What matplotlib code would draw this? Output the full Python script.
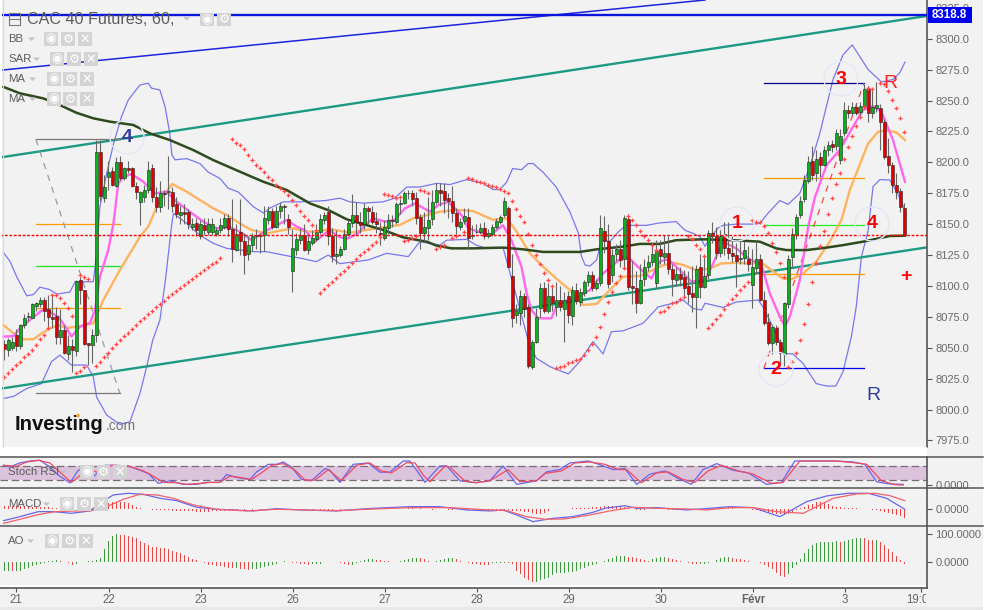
import numpy as np
import matplotlib
matplotlib.use('Agg')
import matplotlib.pyplot as plt
from matplotlib.patches import Rectangle, Circle, Polygon

plt.rcParams['font.family'] = ['Liberation Sans', 'DejaVu Sans']

# candles, one row per ten hours
open_ = [8053,8048,8050,8060,8051,8068,8075,8074,8084,8085,
         8089,8081,8075,8076,8059,8064,8045,8051,8047,8104.5,
         8097,8054,8052,8060,8208,8171,8188,8193,8181,8200,
         8187,8195,8195,8181,8168,8172,8178,8195,8172,8164,
         8175,8176,8176,8166,8157,8160,8160,8148,8151,8140,
         8149,8144,8144,8142,8145,8148,8155,8146,8129,8144,
         8136,8126,8133,8140,8140.5,8141,8153,8161,8148,8161,
         8165,8154,8112,8129,8137,8141,8129,8135,8138,8144,
         8153,8160,8140,8124,8125,8130,8142,8151,8157,8152,
         8150,8163,8160,8152.5,8143,8139,8147,8153,8152,8166,
         8167,8175,8175,8171,8155.5,8142.5,8147,8154,8168,8178,
         8176.5,8171,8169,8159,8148,8152.5,8155.5,8140,8144,8144,
         8147,8140.5,8142,8148,8152,8157.5,8163,8108,8076.5,8078,
         8092,8083,8034.7,8054.9,8082,8098,8080,8092,8083,8088.6,
         8081.6,8092,8076,8097,8087,8094.5,8103,8109,8098.6,8102,
         8144.5,8136.4,8109,8126,8130,8122,8154,8100,8098,8086.5,
         8105.6,8115,8119,8102,8130,8123.6,8127,8113.4,8105,8109.3,
         8107.5,8100,8094.5,8091.3,8115,8099.4,8108.8,8143,8140.6,8126.3,
         8142,8131,8127,8125,8122,8122.8,8122,8100.7,8114.7,8121.5,
         8089,8070.5,8054,8066,8055,8045,8085,8123,8141,8157,
         8170,8185,8201,8191,8204,8198,8210,8214.7,8213,8202,
         8223.4,8242,8240,8245,8240.4,8245.5,8259.5,8239.6,8243.6,8243.6,
         8232.3,8205,8198,8181.6,8177,8162.7]
high = [8056,8058,8059,8065,8069,8077,8079,8086,8087,8091,
        8091,8093,8092,8083,8081,8068,8060,8057,8105,8107,
        8097,8054,8065,8218,8218,8190,8201,8196,8204,8205,
        8196,8201,8196,8184,8177,8182,8201,8199,8180,8185,
        8178,8205,8180,8172,8165,8166,8162,8155,8155,8153,
        8155,8155,8155,8148,8155,8158,8158,8170,8150,8170,
        8143,8140,8143,8146,8143,8165,8165,8163,8165,8168,
        8166,8158,8146,8143,8147,8150,8140,8145,8150,8158,
        8160,8165,8147,8145,8132,8146,8153,8174,8168,8160,
        8167,8165,8165,8160,8152,8153,8158,8157,8168,8170,
        8177,8178,8178,8176,8158,8160,8172,8178,8183,8183,
        8183,8175,8181,8163,8155,8163,8163,8149,8150,8151,
        8152,8146,8150,8155,8157,8172,8165,8126,8085,8097,
        8094,8085,8056,8082,8102,8103,8102,8100,8103,8100,
        8095,8096,8100,8102,8098,8105,8112,8112,8106,8157,
        8156.6,8150,8130,8134,8137,8157,8158,8120,8112,8118,
        8122,8125,8135,8137,8137,8141,8140,8118,8115,8115,
        8113,8112,8116,8117,8126,8125,8145,8152,8148,8147,
        8152,8152,8140,8135,8137,8136,8132,8130,8136,8126,
        8096,8078,8068,8068,8057,8087,8125,8147,8158,8173,
        8190,8205,8213,8210,8208,8213,8217,8218,8227,8227,
        8249,8246,8249,8248,8249,8263,8262,8259,8265,8247,
        8235,8220,8200,8191,8179,8167]
low = [8040,8043,8048,8047,8049,8066,8072,8074,8080,8083,
       8072,8065,8066,8053,8053,8045,8040,8030,8043,8085,
       8052,8036,8038,8055,8169,8168,8178,8181,8180,8186,
       8186,8191,8180,8170,8149,8168,8175,8168,8160,8160,
       8165,8162,8160,8155,8150,8150,8146,8145,8140,8138,
       8141,8141,8141,8140,8143,8146,8140,8119,8128,8125,
       8110,8121,8128,8130,8127,8128,8150,8146,8147,8155,
       8150,8142,8095,8125,8134,8128,8126,8133,8136,8142,
       8150,8133,8119,8118,8123,8129,8141,8148,8142,8143,
       8146,8150,8150,8143,8133,8137,8142,8148,8150,8158,
       8166,8170,8165,8150,8130,8136,8137,8149,8166,8165,
       8159,8155,8152,8142,8145,8150,8130,8138,8143,8142,
       8138,8139,8140,8146,8150,8156,8115,8067,8070,8068,
       8075,8034,8033,8054,8075,8078,8078,8080,8076,8080,
       8055,8070,8068,8085,8084,8092,8100,8096,8097,8100,
       8127,8098,8103,8120,8115,8114,8097,8085,8078,8085,
       8100,8112,8116,8098,8118,8118,8110,8092,8100,8100,
       8092,8086,8079,8066,8090,8098,8106,8135,8122,8123,
       8125,8122,8119,8099,8118,8118,8112,8082,8110,8088,
       8068,8052,8045,8052,8037,8035,8082,8115,8138,8155,
       8168,8183,8186,8185,8188,8197,8205,8208,8210,8199,
       8221,8236,8238,8238,8238,8243,8233,8236,8241,8210,
       8203,8191,8175,8170,8160,8140]
close = [8049,8056,8055,8051,8068,8074,8075.5,8085,8086,8089,
         8080,8075,8073,8059,8064,8046,8051,8048,8104,8097,
         8053,8052,8060,8208,8173,8180,8192,8182,8200,8187,
         8195,8194,8181,8176,8176,8178,8194,8172,8164,8175,
         8174,8176.5,8165,8158,8160,8158,8150,8150,8145,8150,
         8145,8150,8150,8145,8149,8155,8146,8130,8142,8136,
         8125,8133,8140,8141,8141,8155,8161,8148,8161,8165,
         8164,8148,8130.4,8138,8141,8129,8136,8138.5,8144,8154,
         8157,8140,8124,8126,8130,8142,8151,8157,8152,8149,
         8163,8161,8152,8150,8142,8148,8153,8152.5,8166,8167,
         8175,8175.5,8170,8155,8143,8148,8153,8168,8178,8175.5,
         8169.5,8169,8159,8148.5,8151.5,8156.5,8138.5,8141,8144,8147,
         8140.5,8142.5,8147.5,8152.5,8155.5,8169,8115.6,8074,8079.7,8092,
         8081,8035,8054.4,8074.6,8098,8080,8092,8086.5,8088.6,8083,
         8089,8076.5,8097,8088,8095,8103,8109,8098.6,8102,8146.6,
         8136.6,8101.6,8125,8130,8121,8154.7,8099,8098,8086,8104.5,
         8115.6,8119,8125.6,8128,8124,8127,8113.4,8105.3,8109.3,8106,
         8098.5,8093.4,8091.3,8114,8099.4,8108,8143,8140.6,8126.3,8140,
         8130.4,8127,8124,8120.4,8122.5,8128.8,8118,8115,8121.5,8089,
         8070,8054,8067,8054.6,8046,8086,8122,8141.7,8156,8169,
         8185.7,8200,8190,8203,8198,8210,8214,8212.6,8224,8221,
         8242,8240,8244.5,8240,8245.8,8259,8239.6,8244.5,8246,8232.3,
         8204.5,8198,8182,8176,8163.5,8141]

# indicators read at the bends of each line
bb_up_i = [-0.2,1.4,3.1,5.6,7.3,8.9,11.4,13.1,16.4,17.7,19.3,22.25,23.1,23.9,25.6,27.3,29.3,31,33.9,36,36.8,38.9,40.2,41.4,41.9,42.7,45.6,48.9,51,53.9,56,58.5,62.3,64.8,66.4,69.75,73.9,80.2,
           83.9,86.4,89.7,94.7,97.6,100.6,103.9,108.1,111.4,115.6,119.7,122.2,123.9,125.6,127.1,129.3,131,132.2,134.7,138,141.4,143.5,144.3,145.2,146.4,148.1,149.3,151.4,153.9,155.6,160.6,163.9,
           168,170.2,172.2,173.9,175.2,176.4,178.5,179.7,183,187.2,188.9,191,193.9,196,198.9,201.4,203.9,207.2,209.7,212,213.9,216,219.3,222.2,223.9,225.2]
bb_up = [8127,8120,8107.5,8092,8093,8099,8097,8093.4,8095,8103.4,8103.4,8103.4,8126.5,8164,8191,8215,8237,8250.4,8262.5,8264,8260,8258.5,8245,8223,8206,8202,8203,8199,8192,8187,8179,8176,8164,8159,8163,8168,8168,8169,
         8171,8168,8167,8168,8171,8180,8180,8183,8182,8186,8183,8178,8178,8184,8195,8194,8199,8199,8192,8180,8160,8143,8124,8117,8116,8121,8137,8136,8145,8149,8149,8151,
         8152,8145,8142.5,8140,8132,8138.5,8147,8149,8150,8150,8150.6,8159,8169,8166,8175,8196.5,8223.4,8267,8287,8295,8285.5,8275,8265,8267,8272.5,8281]
bb_low_i = [-0.2,2.3,5.6,9.3,11.8,13.9,16.8,20.6,22.25,23.1,25.6,28.9,31.4,33.9,35.6,37.1,38.9,40.3,41.4,42,42.3,45.6,48.9,52.3,55.6,62.3,65.6,69.75,74.75,78,81,
            83.9,91,95.6,101,103.9,108.9,110.6,115.6,118,120.6,124.7,126,128.1,131.4,133.1,136.4,141,143.5,147.2,149.7,151.8,154.7,159.7,163.5,
            167.2,169.7,172.2,174.3,175.2,179.7,183,188.5,189.7,192.6,195.2,197.2,199.7,203,205.6,207.9,209.7,211.8,213,214.3,216,217.2,218.9,221.4,223.2,225]
bb_low = [8009,8010.6,8017,8021,8038.7,8044,8036,8036,8026.5,8010,7995.5,7988,7990,8013,8034.6,8056,8072.4,8105,8137,8153,8158.7,8150.6,8141,8134.4,8130.4,8127.7,8127.7,8125,8122,8119.6,8125,
          8118,8121,8126.4,8123.7,8135.8,8133,8137,8137.7,8133,8130.4,8131,8115.6,8091,8051,8041.4,8034.7,8028.8,8037.4,8055,8045,8063,8063.6,8069.8,8083,
          8086,8088.6,8081.8,8080.5,8086,8082.6,8087,8088.6,8083,8064,8045.4,8044.9,8037.3,8021,8019,8019,8030.6,8059,8083,8123.6,8145,8180.3,8186,8185.7,8176,8162.7]
pink_i = [-0.2,2.3,3.9,6.4,8.9,10.2,11.4,13.5,15.6,16.8,18.9,21.4,22.7,23.9,26,27.3,28.5,29.8,31.8,34.75,37.7,40.6,43.1,46.4,49.75,53.1,56.4,58.9,61.8,65.6,68.1,70.6,73.1,75.2,77.7,80.2,81.4,
          83.9,86,88.5,90.2,92.2,95.2,97.6,100.2,102.7,106.4,108.5,111,114.3,116,118.5,121.4,124.7,126.8,129.3,130.6,131.8,133.5,136.8,138,139.7,143,146.4,149.7,152.2,154.7,156.4,158.9,161.8,163.9,
          166,168.9,171.8,175.2,177.2,179.7,183,186,189.3,191.4,193.9,195.2,196.4,198.9,201,202.7,205.6,208.9,212.2,214.7,217.2,219.3,222.2,225.2]
pink = [8059,8059.4,8065.6,8072.4,8079,8081.8,8079,8075,8065.6,8059,8067,8070,8080.5,8107.5,8129,8150.6,8183,8188,8190.5,8184.3,8174.9,8176.2,8168,8160,8152,8146.6,8147.4,8143.9,8137,8145,8149,8153.3,8148,8145,8135.8,8142.5,8145,
        8139.3,8138.5,8142.6,8149.3,8154.7,8152,8153.4,8162.8,8166.8,8160,8165.5,8168,8157.4,8146.6,8144,8141,8149,8137,8115.6,8094,8080.5,8073.8,8073.8,8083,8087.3,8090,8096.7,8110,8117,8123.7,8122,8114,8106,8120,
        8121.5,8112.8,8103.4,8104.8,8118,8135.8,8130.4,8122.3,8117,8094,8075,8067.5,8075,8104.8,8148,8172,8197.8,8210,8228.8,8242.3,8245.5,8241,8218,8184.3]
orange_i = [-0.2,2.3,4.75,7.25,9.3,11.4,13.5,15.6,18.1,22.25,24.75,28.9,33.9,36,38.1,40.2,42,45.6,48.9,52.3,55.6,58.9,61.8,65.6,69.75,72.25,75.6,78,81.4,
            86.4,90.6,94.7,98.9,102.2,105.2,108.9,113,117.2,122.2,125.6,128.1,131.4,134.7,138,141.4,144.7,148.1,151,154.7,158.9,163.9,
            167.2,169.7,173,176.4,179.3,183,186,189.3,191.8,194.7,196.8,199.7,203,206.4,209.3,211.4,213.5,216,218.5,220.6,223.1,225.2]
orange = [8068.3,8061.6,8056.8,8056.8,8061.6,8065.6,8068.3,8066,8067,8069.7,8088.6,8112.8,8139.8,8148,8164,8174.9,8182.4,8176.2,8169.5,8162.7,8157.3,8150.6,8145.2,8142.5,8145.2,8146.6,8143.9,8143.9,8146,
          8143,8145.3,8147.4,8149.3,8154.7,8156.9,8160,8161.5,8160.6,8153.4,8154.7,8144,8126.4,8115.6,8106,8096.7,8084.6,8085.4,8095.4,8107.5,8108,8115.6,
          8118.8,8117,8112.8,8114,8118.2,8118.8,8118.2,8118.8,8112.8,8106,8105.3,8110,8119.6,8135.8,8153.3,8177.6,8195,8215.3,8224.8,8226,8224,8218]
ma200_i = [-0.2,3.9,9.75,13.9,18.1,22.25,26.4,32.25,36.4,41.4,47.25,52.25,58.9,64.75,70.6,76.4,81.4,
           85.6,89.7,94.7,99.7,105.6,108.1,111.8,117.2,124.7,129.7,134.7,143.9,148.1,154.7,158.9,163.9,
           168,174.7,182.2,188.9,193,195.6,200.6,205.6,209.7,214.7,221.4,225.2]
ma200 = [8261,8255.8,8251.7,8246.3,8240,8235.6,8232.9,8230.2,8223.4,8218,8209.9,8201.8,8192.4,8184.3,8177.6,8166.8,8160.8,
         8153.9,8150,8145.3,8139.3,8135.8,8132.6,8130.4,8130.4,8131,8129.6,8127.5,8127.5,8129.6,8131.8,8134,8134,
         8137,8137.7,8137,8135.8,8130.4,8129,8129,8131,8133,8135.8,8140.4,8140.6]

sar_i = list(range(0,21)) + [19,20,21] + list(range(23,55)) + list(range(57,79)) + list(range(79,95)) + list(range(95,100)) + [100,101,102,103,104,105,106,108,109,110,112,113,115] \
    + list(range(116,138)) + list(range(138,156)) + list(range(156,164)) + list(range(164,171)) + list(range(171,176)) + list(range(176,187)) + list(range(187,196)) + list(range(196,218)) + list(range(219,226))
sar = [8026.5,8029.8,8032.7,8036,8038.7,8042.2,8044.9,8048.1,8052.2,8056.8,8060,8065.6,
       8092.6,8092.6,8090.5,8086.4,8081.8,8075.6,8029.2,8031.1,8034.6,
       8108.8,8106.9,8106,
       8035.2,8038.7,8042.2,8046,8049.5,8053,8056.2,8059.4,8062.1,8064.8,8068.3,8071.6,8074.3,8077,8080,8082.6,8085,8087.8,8090.7,8093.4,8096.1,8098.6,8100.7,8102.9,8105.3,8108,8110.7,8112.8,8115,8117.4,8119.6,8122.3,
       8218.6,8215.9,8214,8210.5,8205.9,8201.8,8197.8,8195.1,8191.9,8188.4,8185.7,8181.6,8178.9,8176.8,8173.5,8169.5,8165.4,8160.9,8156.5,8153.3,8149.3,8145.2,
       8094.5,8097.5,8100.7,8103.5,8106.7,8109.4,8112.4,8115,8118.3,8121.8,8124.8,8127.2,8129.9,8133.1,8135.8,8139.3,
       8174.4,8173.6,8172.8,8171.4,8171.7,
       8136.6,8137.2,8138.5,8140.4,8177.6,8177,8175.5,8129.6,8131.2,8133.1,8138.5,8140.4,8143.9,
       8187,8186.3,8185.2,8183.8,8183,8181.7,8180.9,8179.8,8178.2,8177.1,8174.9,8168.7,8162.3,8156.9,8151.5,8142,8133.1,8125,8117.8,8110.7,8104.8,8100,
       8033.3,8034.7,8035.5,8037.4,8038.7,8040,8040.6,8044.1,8048.2,8052.8,8058.4,8066.5,8077,8086.7,8094.8,8102.1,8108.3,8114.3,
       8156.6,8153.4,8149,8144.5,8140.4,8137.2,8133.1,8129.1,
       8079,8080,8083.2,8085.9,8087.2,8089.1,8090.7,
       8140.6,8137.7,8133,8129.6,8124.2,
       8065.6,8069.2,8072.9,8076.4,8081.3,8085,8089.1,8092.6,8096.7,8100.2,8102.9,
       8153.3,8152,8151.4,8148.4,8142.5,8134.4,8127.1,8118.8,8107.5,
       8034.6,8038.7,8045.4,8056.2,8068.9,8085.3,8102.9,8118.2,8132.3,8144.7,8157.9,8170.8,8182.2,8191,8202.4,8212.1,8221.3,8229.4,8236.9,8244.5,8259.8,8259,
       8264.4,8263,8257.9,8250.4,8243.6,8235.6,8224.2]

stoch_k_i = [-0.2,1.4,3.9,6.4,8.9,11.4,13.5,16.4,18.5,19.75,22.25,25.2,27.7,31,33.9,36,38.5,41.4,44.75,48.1,50.6,53.9,55.6,58.1,61.4,63.1,66,68.1,69.75,71.8,74.3,76.8,80.2,81.4,83.9,87.25,91,93.9,96.4,99.75,101.4,103.1,105.2,108.9,110.6,113.9,117.7,121.4,
             124.7,128.1,133.1,135.6,138.9,141.4,146,148.9,152.2,155.2,158.1,161.4,165.2,168.5,171.8,174.7,178.1,182.2,186,190.6,194.3,197.65,201.4,207.65,212.2,215.15,218.1,221.4,224.75]
stoch_k = [83,76,93,101,104,76,42,10,62.5,69,35,83,83,80,62.5,49,7.7,18.7,3.6,3.6,11.8,11.8,44.7,32.4,24,55.6,87,87,96.7,76,24,18.7,69.4,62.5,11.8,87,92.6,54.3,54.3,100.9,100.9,62.5,11.8,80.3,80.3,18.7,10.4,18.7,
           80.3,3.6,18.7,55.6,65.2,92.6,100.9,85.8,65.2,69.4,3.6,46,59.8,28.3,3.6,65.2,89.9,62.5,51.5,3.6,11.8,100.9,100.9,100.9,96.7,87.2,14.5,5,3.6]
stoch_d_i = [-0.2,3.1,5.6,8.5,11.4,14.3,16.8,19.75,21,23.9,26.8,31,34.75,36.8,39.75,43.1,45.6,48.9,51.4,53.9,56.4,58.9,61.8,64.3,66.8,69.75,72.7,75.2,77.7,81,84.3,88.1,91.4,94.3,96.8,100.6,102.7,104.75,106.4,110.2,111.4,115.2,118.1,121.4,
             126,128.9,133.1,135.15,139.3,142.65,146.4,150.15,153.5,155.55,159.3,163.1,166,169.7,172.65,176,179.3,183.5,187.25,191.8,194.7,198.9,202.65,208.1,213.1,215.6,219.3,222.65,224.75]
stoch_d = [83,79,96.7,103.6,92.6,48.8,11.8,51.5,65.2,51.5,83,80,59.8,42,11.8,10.4,3.6,7.7,11.8,11.8,37.8,32.4,24,51.5,83,89.9,62.5,21.4,21.4,65.2,18.7,83,92.6,59.8,51.5,94,92.6,42,14.5,80.3,76,17.3,10.4,18.7,
           65.2,14.5,18.7,48.8,59.8,92.6,96.7,87.2,65.2,65.2,10.4,51.5,55.6,24,11.8,59.8,83,59.8,46,7.7,11.8,100.9,100.9,100.9,92.6,87.2,18.7,2.2,0.9]
stoch_levels = [20, 80]

macd_i = [-0.2,3.9,8.5,12.25,16.8,21.4,23.9,27.25,31,34.75,38.9,43.1,48.1,53.1,57.25,62.25,68.1,73.9,83.1,90.6,101.4,108.9,115.6,121.4,
          124.7,128.1,132.2,137.2,142.2,147.2,150.15,155.15,158.1,163.1,170.6,176.4,181.4,187.25,193.9,200.6,205.6,211,216,220.6,225.15]
macd = [-22.7,-14.7,-4.7,-4.7,-8,-3.3,12,28.7,32,30,22,17.3,4,0,-1.3,-3.3,1.3,-1.3,-3.3,1.3,5.3,5.3,-1.3,-3.3,
        -1.3,-11.3,-24.7,-18,-14.7,-6,2,7.3,2,3.3,-1.3,2,5.3,3.3,-14.7,15.3,26.7,32,32,22,0]
signal_i = [-0.2,3.9,8.1,12.7,18.1,21.4,25.6,29.75,33.9,38.1,42.25,47.25,53.1,60.6,68.1,75.6,83.1,90.6,101.4,111.4,121.4,
            125.6,130.6,135.15,140.15,146.4,151.4,157.2,163.1,170.6,175.6,181.4,187.25,193.1,199.75,207.25,213.1,217.65,221.4,225.15]
signal = [-28,-20,-11.3,-4.7,-3.3,-3.3,5.3,20,30,28.7,22,8.7,0,-3.3,0,-1.3,-2.7,0,3.3,3.3,-1.3,
          -2.7,-14.7,-20,-19.3,-11.3,-3.3,4,2,0.7,-1.3,3.3,3.3,-4.7,-8,22,30.7,32,27.3,17.3]
macd_hist = [6,6,6,6,6,6,6,5,5,5,4, 4,3,3,2,1,0,1,0, 2,3,2,3,
             5,8,10,12,14,15,15,14,12,8,5,3,1,
             0,-1,-1,-2,-2,-2,-3,-3,-3,-3,-4,-4,-5,-5,-5,-5,-4,-4,-3,-3,-2,-1,-1,
             0,-1,0,-1,0,-1,0,-1,1,1, 1,0,-1,-1,-1,-1,-1,0,-1,0,-1,-1,
             -1,-1,0,-1,0,1,1,1,0,1,1,1,0,0,1,1,0,1,1,1,
             2,2,1,2,0,1,-1,1,0,1,-1,-1,0,1,1,-2,-2,-2,-2,-3,-3,
             -2,-3,-2,-1,-2,-3,-3,-4,-5,-6,-7,-10,-9,-7,-3,
             1,1,1,1,1,2,2,2,3,3,4,5,5, 6,6,6,6,5,5,3,1,-1,
             -2,-1,1,1,1,1,0,-1,-1,-1,-1,-1,
             -2,-1,0,1,2,3,3,3,3,3,2,2,1,0,0,0,
             -1,-2,-3,-5,-7,-8,-9,-10,-11,-10,-6,-1,
             2,5,8,10,14,15,13,10,7,5,4,3,3,2,2,1,1,
             0,-1,-2,-4,-6,-8,-10,-12,-14,-18]
ao = [-30,-30,-32,-32,-32,-25,-20,-15,-8,-5,-2,3,6,8,5,0,-3,-8,-5,0,2,3,4,8,16,46,76,93,100,98,96,94,90,85,77,68,60,56,54,52,50,46,42,38,33,27,19,11,7,0,
      -3,-8,-10,-12,-13,-16,-20,-22,-22,-23,-25,-28,-25,-24,-22,-17,-13,-10,-6,0,3,2,-2,-4,-5,-7,-10,-7,-6,-5,0,0,0,0,-3,-6,-8,-8,-3,3,8,10,10,9,8,6,5,1,2,5,
      7,11,15,17,15,10,5,0,3,8,12,14,14,11,4,0,-3,-5,-6,-8,-9,-10,-3,-3,-3,-3,-4,-6,-30,-42,-57,-65,-69,-69,-65,-60,-55,-45,-39,-37,-37,-33,-33,-30,-25,-21,-15,-10,-5,0,6,11,
      15,21,23,23,20,18,15,13,8,6,11,14,18,18,14,12,8,5,0,-4,-5,-6,-6,-6,-4,0,8,14,18,18,14,12,11,8,5,0,0,-2,-10,-18,-25,-37,-49,-51,-42,-21,-10,11,32,48,60,68,73,73,73,73,
      76,74,77,81,83,86,87,85,81,80,80,74,61,49,36,23,8,-6]

# drawn levels and trend lines
level_price = 8318.8
last_price = 8141
channel_i = [-0.3, 230.7]
channel_up = [8204.3, 8318.4]
channel_low = [8017.2, 8131.2]
thin_i = [-0.3, 175.2]
thin_price = [8274.7, 8331.3]
fib_left_i = [7.9, 28.9]
fib_left_prices = [8218.6, 8149.8, 8115.9, 8081.9, 8013]
fib_left_colors = ['#777777', '#ff9a00', '#22dd22', '#ff9a00', '#777777']
fib_right_i = [189.9, 214.9]
fib_right_prices = [8263.9, 8187, 8149, 8110, 8033.3]
fib_right_colors = ['#00008b', '#ff9a00', '#22ee22', '#ff9a00', '#0000ee']
main_ticks = list(range(7975, 8326, 25))
day_ticks = [2.9, 26.2, 49.2, 72.2, 95.2, 118.2, 141.2, 164.2, 187.2, 210.2, 229.1]
day_labels = ['21', '22', '23', '26', '27', '28', '29', '30', 'Févr', '3', '19:00']

W, H = 986, 610
BG = '#f2f2f2'
fig = plt.figure(figsize=(W/100, H/100), dpi=100, facecolor=BG)
RIGHT = 927
XLIM = (-1.075, 230.7)


def panel(top, bottom):
    ax = fig.add_axes([0, 1 - bottom/H, RIGHT/W, (bottom - top)/H], facecolor=BG)
    ax.set_xlim(*XLIM)
    for s in ['left', 'top', 'bottom']:
        ax.spines[s].set_visible(False)
    ax.spines['right'].set_color('#555555')
    ax.spines['right'].set_linewidth(1.2)
    ax.yaxis.tick_right()
    ax.tick_params(axis='y', labelcolor='#6a6a6a', labelsize=8, length=3.5, width=0.8, pad=2.5, color='#555555')
    ax.set_xticks([])
    return ax


# main price panel
ax = panel(0, 447)
ax.set_ylim(7969.7, 8331.3)
ax.set_yticks(main_ticks)
ax.set_yticklabels(['%.1f' % t for t in main_ticks])

x = np.arange(len(close))
ax.plot(bb_up_i, bb_up, color='#7878f0', lw=0.9, zorder=2)
ax.plot(bb_low_i, bb_low, color='#7878f0', lw=0.9, zorder=2)
ax.plot(channel_i, channel_up, color='#1d9a84', lw=1.7, zorder=2)
ax.plot(channel_i, channel_low, color='#1d9a84', lw=1.7, zorder=2)
ax.plot(thin_i, thin_price, color='#1c24dd', lw=1.1, zorder=2)
ax.plot(channel_i, [level_price, level_price], color='#0a18dd', lw=1.7, zorder=6)
ax.plot(orange_i, orange, color='#ffb35f', lw=1.7, zorder=3)
ax.plot(pink_i, pink, color='#ff66ee', lw=1.7, zorder=3)
ax.plot(ma200_i, ma200, color='#2f4a1c', lw=1.8, zorder=3)

# fib tools
for price, col in zip(fib_left_prices, fib_left_colors):
    ax.plot(fib_left_i, [price, price], color=col, lw=0.9, zorder=2)
for price, col in zip(fib_right_prices, fib_right_colors):
    ax.plot(fib_right_i, [price, price], color=col, lw=0.9, zorder=2)
ax.plot(fib_left_i, [fib_left_prices[0], fib_left_prices[-1]], color='#999999', lw=0.9, ls=(0, (5, 5)), zorder=2)
ax.plot(fib_right_i, [fib_right_prices[-1], fib_right_prices[0]], color='#ff4444', lw=0.9, ls=(0, (5, 5)), zorder=2)

# candles
for i in x:
    ax.plot([i, i], [low[i], high[i]], color='#666666', lw=0.8, zorder=4, solid_capstyle='butt')
    col = '#0db01c' if close[i] >= open_[i] else '#e00000'
    ax.bar(i, abs(close[i] - open_[i]), bottom=min(open_[i], close[i]), width=0.68, color=col,
           edgecolor='#222222', linewidth=0.4, zorder=5)

ax.scatter(sar_i, sar, marker='+', s=9, color='#ff4848', linewidths=0.9, zorder=6)
ax.axhline(last_price, color='#ff0000', lw=1, ls=(0, (2, 1.2)), zorder=6)

# stoch rsi
ax1 = panel(457, 488)
ax1.set_ylim(-11.5, 117.5)
ax1.axhspan(stoch_levels[0], stoch_levels[1], color='#dcc3dc', lw=0)
for lev in stoch_levels:
    ax1.axhline(lev, color='#7a6a7a', lw=0.9, ls=(0, (6, 3)))
ax1.plot(stoch_k_i, stoch_k, color='#6666ee', lw=0.9)
ax1.plot(stoch_d_i, stoch_d, color='#f04a60', lw=0.9)
ax1.set_yticks([0])
ax1.set_yticklabels(['0.0000'])

# macd
ax2 = panel(488, 526)
ax2.set_ylim(-33.4, 42.6)
ax2.bar(x, macd_hist, width=0.22, color='#e84040', lw=0)
ax2.plot(macd_i, macd, color='#6666ee', lw=0.9)
ax2.plot(signal_i, signal, color='#f5606a', lw=0.9)
ax2.set_yticks([0])
ax2.set_yticklabels(['0.0000'])

# awesome oscillator
ax3 = panel(526, 588)
ax3.set_ylim(-91.8, 129.6)
ao_colors = ['#3f9a3f' if k == 0 or ao[k] >= ao[k - 1] else '#e84848' for k in range(len(ao))]
ax3.bar(np.arange(len(ao)), ao, width=0.24, color=ao_colors, lw=0)
ax3.set_yticks([0, 100])
ax3.set_yticklabels(['0.0000', '100.0000'])
ax3.spines['bottom'].set_visible(True)
ax3.spines['bottom'].set_color('#555555')
ax3.spines['bottom'].set_linewidth(1.2)
ax3.set_xticks(day_ticks)
ax3.set_xticklabels(day_labels)
ax3.tick_params(axis='x', labelcolor='#666666', labelsize=8.3, length=3, width=0.8, pad=1.5, color='#555555')
for lab in ax3.get_xticklabels():
    if lab.get_text() == 'Févr':
        lab.set_fontweight('bold')

# screen furniture in pixel coordinates
ov = fig.add_axes([0, 0, 1, 1], zorder=10)
ov.set_xlim(0, W)
ov.set_ylim(H, 0)
ov.axis('off')


def box(x0, y0, x1, y1, col, z=1):
    ov.add_patch(Rectangle((x0, y0), x1 - x0, y1 - y0, facecolor=col, edgecolor='none', zorder=z))


box(0, 447, RIGHT, 456, 'white')
box(0, 585, RIGHT - 1, 587.3, 'white')
box(928, 488.7, 983, 494, BG)
box(926, 590, 983, 606, BG)
box(0, 607, 983, 610, '#e8e8e8')
box(983, 0, 986, 610, 'white')
box(0, 0, 2, 447, '#ffffff')
for yy in [456.6, 488, 526]:
    ov.plot([0, 983], [yy, yy], color='#555555', lw=1.1, zorder=2)
ov.plot([2.5, 2.5], [0, 447], color='#d8d8d8', lw=0.8, zorder=2)

# price flag
box(927.5, 7, 972, 23, '#0000f0', z=3)
ov.text(949.7, 15.3, '8318.8', color='white', fontsize=8.3, fontweight='bold', ha='center', va='center', zorder=4)


def icons(xs, y0, y1):
    glyphs = ['◉', '⚙', '✕']
    for (x0, x1), g in zip(xs, glyphs):
        box(x0, y0, x1, y1, '#d4d4d4', z=3)
        ov.text((x0 + x1)/2, (y0 + y1)/2, g, color='white', fontsize=9, ha='center', va='center',
                family='DejaVu Sans', zorder=4)


def caret(x0, y0):
    ov.add_patch(Polygon([(x0, y0), (x0 + 7, y0), (x0 + 3.5, y0 + 3.5)], facecolor='#c4c4c4', edgecolor='none', zorder=4))


ov.add_patch(Rectangle((8.5, 13), 11.5, 11.5, facecolor='none', edgecolor='#777777', lw=0.8, zorder=4))
ov.plot([8.5, 20], [18.7, 18.7], color='#777777', lw=0.8, zorder=4)
ov.text(27, 19.5, 'CAC 40 Futures, 60,', color='#5c5c5c', fontsize=11.6, va='center', zorder=4)
caret(183, 17)
icons([(200, 213.5), (217, 231)], 13, 25.5)

legend_rows = [('BB', 39, 28, [(44, 57.5), (61, 75), (78, 92)]),
               ('SAR', 59, 33, [(50, 64), (67, 81), (84, 98)]),
               ('MA', 79, 29, [(47, 60.5), (63, 77), (80, 94)]),
               ('MA', 99, 29, [(47, 60.5), (63, 77), (80, 94)]),
               ('Stoch RSI', 472, 60, [(80, 94), (97, 110), (113, 127)]),
               ('MACD', 504, 43, [(60, 73.5), (77, 91), (94, 108)]),
               ('AO', 541, 27, [(45, 59), (62, 76), (79, 93)])]
for name, yy, cx, xs in legend_rows:
    icons(xs, yy - 7, yy + 7)
    ov.text(8, yy, name, color='#5c5c5c', fontsize=8.2, va='center', zorder=5)
    caret(cx, yy - 1.5)

# wave labels with their faint circles
wave_labels = [('4', 127, 137, '#2f3d9c', 'bold', True), ('1', 737, 224, '#ff0000', 'bold', True),
               ('2', 776, 369, '#ff0000', 'bold', True), ('3', 841, 79, '#ff0000', 'bold', True),
               ('4', 872, 224, '#ff0000', 'bold', True), ('R', 890, 84, '#ff2020', 'normal', False),
               ('R', 873, 396, '#2f3d9c', 'normal', False), ('+', 906, 276, '#ff0000', 'bold', False)]
for txt, px, py, col, weight, ring in wave_labels:
    if ring:
        ov.add_patch(Circle((px, py), 17, facecolor='none', edgecolor='#e2e8f8', lw=1, zorder=2))
    ov.text(px, py, txt, color=col, fontsize=14, fontweight=weight, ha='center', va='center', zorder=6)

# logo
ov.text(15, 424, 'Investing', color='#111111', fontsize=14.6, fontweight='bold', va='center', zorder=6)
ov.text(106, 426.5, '.com', color='#777777', fontsize=10, va='center', zorder=6)
ov.add_patch(Circle((78, 415.5), 1.8, facecolor='#f5a623', edgecolor='none', zorder=7))

fig.savefig('out.png', dpi=100, facecolor=fig.get_facecolor())
